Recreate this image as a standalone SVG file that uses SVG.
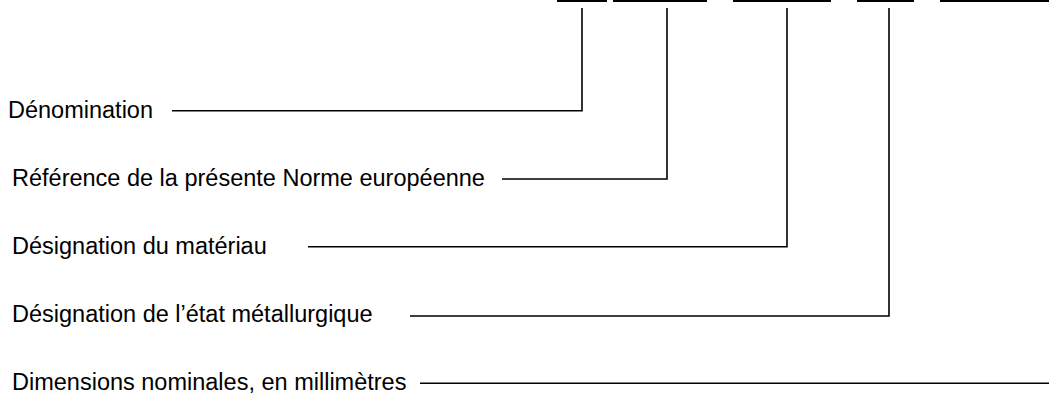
<svg xmlns="http://www.w3.org/2000/svg" width="1049" height="396" viewBox="0 0 1049 396">
<style>
.t{font-family:"Liberation Sans",Arial,sans-serif;font-size:23.5px;fill:#000}
.c{fill:none;stroke:#000;stroke-width:1.6}
.b{fill:none;stroke:#000;stroke-width:2.2}
</style>
<rect width="1049" height="396" fill="#fff"/>
<g id="code-bars">
<line class="b" x1="557" y1="1" x2="607" y2="1"/>
<line class="b" x1="613" y1="1" x2="707" y2="1"/>
<line class="b" x1="733" y1="1" x2="831" y2="1"/>
<line class="b" x1="857" y1="1" x2="914" y2="1"/>
<line class="b" x1="940" y1="1" x2="1049" y2="1"/>
</g>
<g id="n1"><text class="t" x="8" y="118">Dénomination</text></g>
<g id="n2"><text class="t" x="12" y="186">Référence de la présente Norme européenne</text></g>
<g id="n3"><text class="t" x="12" y="254">Désignation du matériau</text></g>
<g id="n4"><text class="t" x="12" y="322">Désignation de l’état métallurgique</text></g>
<g id="n5"><text class="t" x="12" y="390">Dimensions nominales, en millimètres</text></g>
<g id="connectors">
<polyline class="c" points="172,110.7 582,110.7 582,8"/>
<polyline class="c" points="502,179 667,179 667,8"/>
<polyline class="c" points="308,246.7 787,246.7 787,8"/>
<polyline class="c" points="410,316 889,316 889,8"/>
<polyline class="c" points="420,383.3 1049,383.3"/>
</g>
</svg>
